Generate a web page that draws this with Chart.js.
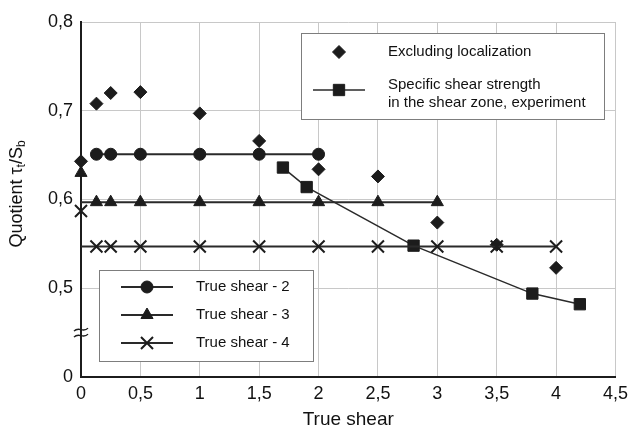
<!DOCTYPE html>
<html>
<head>
<meta charset="utf-8">
<script src="https://cdn.jsdelivr.net/npm/chart.js@4.4.0/dist/chart.umd.min.js"></script>
<style>
  html, body { margin: 0; padding: 0; background: #fff; }
</style>
</head>
<body>
<canvas id="shearChart" width="634" height="430"></canvas>
<script>
// tick labels (comma decimals, bottom of the broken y axis is shown as "0")
const xTickLabels = ["0", "0,5", "1", "1,5", "2", "2,5", "3", "3,5", "4", "4,5"];
const yTickLabels = ["0", "0,5", "0,6", "0,7", "0,8"];

// excluding localization (diamonds)
const exclX = [0, 0.13, 0.25, 0.5, 1, 1.5, 2, 2.5, 3, 3.5, 4];
const exclY = [0.643, 0.708, 0.72, 0.721, 0.697, 0.666, 0.634, 0.626, 0.574, 0.549, 0.523];

// true shear - 2 (circles)
const shear2X = [0.13, 0.25, 0.5, 1, 1.5, 2];
const shear2Y = [0.651, 0.651, 0.651, 0.651, 0.651, 0.651];

// true shear - 3 (triangles), line starts at the axis
const shear3X = [0, 0.13, 0.25, 0.5, 1, 1.5, 2, 2.5, 3];
const shear3Y = [0.597, 0.597, 0.597, 0.597, 0.597, 0.597, 0.597, 0.597, 0.597];
const shear3StartX = [0];
const shear3StartY = [0.63];

// true shear - 4 (crosses), line starts at the axis
const shear4X = [0, 0.13, 0.25, 0.5, 1, 1.5, 2, 2.5, 3, 3.5, 4];
const shear4Y = [0.547, 0.547, 0.547, 0.547, 0.547, 0.547, 0.547, 0.547, 0.547, 0.547, 0.547];
const shear4StartX = [0];
const shear4StartY = [0.587];

// specific shear strength in the shear zone, experiment (squares)
const expX = [1.7, 1.9, 2.8, 3.8, 4.2];
const expY = [0.636, 0.614, 0.548, 0.494, 0.482];

const ink = "#1c1c1c";
const lineInk = "#2a2a2a";
const font = "'Liberation Sans', Arial, sans-serif";

const toPoints = (xs, ys) => xs.map((x, i) => ({ x: x, y: ys[i] }));

const marker = {
  diamond: { pointStyle: "rectRot", radius: 6.5, borderWidth: 1 },
  circle: { pointStyle: "circle", radius: 6, borderWidth: 1 },
  triangle: { pointStyle: "triangle", radius: 7, borderWidth: 1 },
  cross: { pointStyle: "crossRot", radius: 8.5, borderWidth: 2 },
  square: { pointStyle: "rect", radius: 8, borderWidth: 1 },
};

function series(label, xs, ys, m, showLine, lineWidth, hideFirst) {
  return {
    label: label,
    data: toPoints(xs, ys),
    showLine: showLine,
    borderColor: lineInk,
    borderWidth: lineWidth,
    pointStyle: m.pointStyle,
    pointRadius: hideFirst ? xs.map((x, i) => (i === 0 ? 0 : m.radius)) : m.radius,
    pointBorderWidth: m.borderWidth,
    pointBackgroundColor: ink,
    pointBorderColor: ink,
    clip: false,
  };
}

function drawMarker(ctx, m, x, y) {
  ctx.save();
  ctx.fillStyle = ink;
  ctx.strokeStyle = ink;
  ctx.lineWidth = m.borderWidth;
  Chart.helpers.drawPoint(ctx, { pointStyle: m.pointStyle, radius: m.radius, rotation: 0, borderWidth: m.borderWidth }, x, y);
  ctx.restore();
}

function legendLine(ctx, x1, x2, y, w) {
  ctx.save();
  ctx.strokeStyle = lineInk;
  ctx.lineWidth = w;
  ctx.beginPath();
  ctx.moveTo(x1, y);
  ctx.lineTo(x2, y);
  ctx.stroke();
  ctx.restore();
}

function legendBox(ctx, x, y, w, h) {
  ctx.save();
  ctx.fillStyle = "#fff";
  ctx.fillRect(x, y, w, h);
  ctx.strokeStyle = "#7d7d7d";
  ctx.lineWidth = 1;
  ctx.strokeRect(x + 0.5, y + 0.5, w, h);
  ctx.restore();
}

const decorPlugin = {
  id: "decor",
  afterDraw(chart) {
    const ctx = chart.ctx;
    const area = chart.chartArea;
    const yScale = chart.scales.y;

    // axis break mark on the y axis
    const by = yScale.getPixelForValue(0.45);
    ctx.save();
    ctx.strokeStyle = ink;
    ctx.lineWidth = 1.4;
    [-3, 3].forEach((dy) => {
      ctx.beginPath();
      ctx.moveTo(area.left - 7, by + dy + 1.5);
      ctx.bezierCurveTo(area.left - 2, by + dy - 4, area.left + 2, by + dy + 4, area.left + 7, by + dy - 1.5);
      ctx.stroke();
    });
    ctx.restore();

    // y title with subscripts
    ctx.save();
    ctx.fillStyle = "#111";
    ctx.textBaseline = "middle";
    ctx.translate(17, 194);
    ctx.rotate(-Math.PI / 2);
    const parts = [
      { t: "Quotient \u03c4", size: 18, dy: 0 },
      { t: "t", size: 12, dy: 5 },
      { t: "/S", size: 18, dy: 0 },
      { t: "b", size: 12, dy: 5 },
    ];
    let total = 0;
    parts.forEach((p) => {
      ctx.font = p.size + "px " + font;
      p.w = ctx.measureText(p.t).width;
      total += p.w;
    });
    let px = -total / 2;
    parts.forEach((p) => {
      ctx.font = p.size + "px " + font;
      ctx.fillText(p.t, px, p.dy);
      px += p.w;
    });
    ctx.restore();

    // x title
    ctx.save();
    ctx.fillStyle = "#111";
    ctx.font = "19px " + font;
    ctx.textAlign = "center";
    ctx.textBaseline = "middle";
    ctx.fillText("True shear", (area.left + area.right) / 2, 420);
    ctx.restore();

    // upper legend
    legendBox(ctx, 301, 33, 303, 86);
    drawMarker(ctx, marker.diamond, 339, 52);
    legendLine(ctx, 313, 365, 90, 1.5);
    drawMarker(ctx, marker.square, 339, 90);
    ctx.save();
    ctx.fillStyle = "#111";
    ctx.font = "15px " + font;
    ctx.textBaseline = "middle";
    ctx.fillText("Excluding localization", 388, 52);
    ctx.fillText("Specific shear strength", 388, 85);
    ctx.fillText("in the shear zone, experiment", 388, 103);
    ctx.restore();

    // lower legend
    legendBox(ctx, 99, 270, 214, 91);
    const rows = [
      { m: marker.circle, label: "True shear - 2", y: 287 },
      { m: marker.triangle, label: "True shear - 3", y: 315 },
      { m: marker.cross, label: "True shear - 4", y: 343 },
    ];
    rows.forEach((r) => {
      legendLine(ctx, 121, 173, r.y, 2);
      drawMarker(ctx, r.m, 147, r.y);
      ctx.save();
      ctx.fillStyle = "#111";
      ctx.font = "15px " + font;
      ctx.textBaseline = "middle";
      ctx.fillText(r.label, 196, r.y);
      ctx.restore();
    });
  },
};

const ctx = document.getElementById("shearChart").getContext("2d");

new Chart(ctx, {
  type: "scatter",
  data: {
    datasets: [
      series("True shear - 2", shear2X, shear2Y, marker.circle, true, 2, false),
      series("True shear - 3", shear3X, shear3Y, marker.triangle, true, 2, true),
      series("True shear - 3 start", shear3StartX, shear3StartY, marker.triangle, false, 0, false),
      series("True shear - 4", shear4X, shear4Y, marker.cross, true, 2, true),
      series("True shear - 4 start", shear4StartX, shear4StartY, marker.cross, false, 0, false),
      series("Specific shear strength in the shear zone, experiment", expX, expY, marker.square, true, 1.5, false),
      series("Excluding localization", exclX, exclY, marker.diamond, false, 0, false),
    ],
  },
  options: {
    responsive: false,
    animation: false,
    layout: { padding: { top: 22, right: 17, left: 0, bottom: 0 } },
    plugins: {
      legend: { display: false },
      tooltip: { enabled: false },
    },
    scales: {
      x: {
        type: "linear",
        min: 0,
        max: 4.5,
        afterFit: (s) => { s.height = 53; },
        ticks: {
          stepSize: 0.5,
          autoSkip: false,
          maxRotation: 0,
          padding: 6,
          color: "#111",
          font: { family: font, size: 18 },
          callback: (value, index) => xTickLabels[index],
        },
        grid: { color: "#c8c8c8", lineWidth: 1, drawTicks: false },
        border: { color: ink, width: 2 },
      },
      y: {
        type: "linear",
        min: 0.4,
        max: 0.8,
        afterFit: (s) => { s.width = 81; },
        ticks: {
          stepSize: 0.1,
          padding: 8,
          color: "#111",
          font: { family: font, size: 18 },
          callback: (value, index) => yTickLabels[index],
        },
        grid: { color: "#c8c8c8", lineWidth: 1, drawTicks: false },
        border: { color: ink, width: 2 },
      },
    },
  },
  plugins: [decorPlugin],
});
</script>
</body>
</html>
